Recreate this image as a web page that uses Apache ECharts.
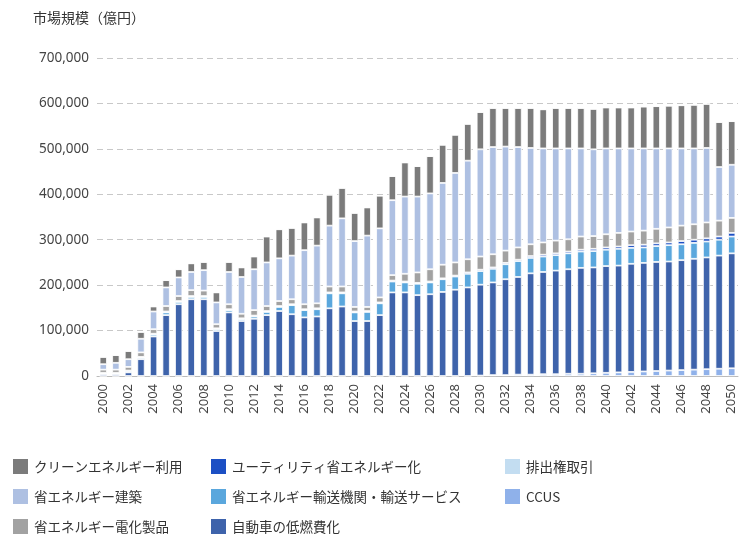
<!DOCTYPE html>
<html><head><meta charset="utf-8">
<script src="https://cdn.jsdelivr.net/npm/echarts@6/dist/echarts.min.js"></script>
<style>html,body{margin:0;padding:0;background:#fff}#c{width:750px;height:538px}</style>
</head><body><div id="c"></div>
<script>
// units: thousand 億円
const years = [];
for (let y = 2000; y <= 2050; y++) years.push(String(y));
const ccus  = [0,0,0,0,0,0,0,0,0,0, 0,0,0,0,0,0,0,0,0,0, 0,0,0,0,0,0,0,0,0,0, 1,2,2,3,3,4,4,5,5,6, 7,8,9,10,11,12,13,14,15,16,17];
const auto  = [4,4,8,37,87,134,158,169,169,99, 140,121,126,134,143,136,129,131,149,153, 121,121,134,184,184,178,180,185,190,195, 200,204,211,215,223,225,228,230,233,233, 235,235,238,239,240,240,242,244,246,249,253];
const trans = [2,2,3,3,4,6,5,5,5,4, 5,4,5,7,9,20,16,16,33,29, 19,20,26,24,22,25,26,28,29,30, 30,30,33,35,34,34,34,35,36,36, 36,37,35,34,35,36,35,35,35,35,37];
const util  = [1,1,1,2,2,2,2,2,2,2, 2,2,2,2,2,2,2,2,2,2, 2,2,2,2,2,2,2,2,2,3, 3,3,3,3,4,4,4,4,4,5, 5,5,6,6,6,6,7,7,7,7,8];
const elec  = [7,7,8,10,10,12,11,13,12,9, 11,10,12,11,11,11,11,11,13,13, 10,9,11,12,17,23,27,30,29,29, 29,29,27,27,26,27,28,27,29,28, 29,30,30,31,32,33,34,34,35,35,33];
const build = [12,15,17,30,39,41,41,40,45,48, 71,81,90,96,94,96,119,127,134,150, 145,157,152,165,170,167,167,180,197,217, 236,236,229,221,212,207,203,200,194,191, 189,186,183,181,177,174,170,167,164,118,117];
const clean = [16,17,18,15,11,16,18,19,18,22, 22,21,28,57,64,61,61,62,68,67, 62,62,72,53,75,67,82,84,84,81, 82,86,85,86,88,86,89,89,89,89, 90,90,90,92,93,94,95,96,97,99,96];
const emis  = years.map(() => 0);

const seriesDefs = [
  ['CCUS', ccus, '#8fb1ea'],
  ['自動車の低燃費化', auto, '#3e63ab'],
  ['省エネルギー輸送機関・輸送サービス', trans, '#5aa7dd'],
  ['ユーティリティ省エネルギー化', util, '#1c4fc4'],
  ['省エネルギー電化製品', elec, '#a2a2a2'],
  ['省エネルギー建築', build, '#aec0e2'],
  ['クリーンエネルギー利用', clean, '#7b7b7b'],
  ['排出権取引', emis, '#c3ddf1']
];
const chart = echarts.init(document.getElementById('c'));
const legendBase = {orient:'vertical', height:120, itemWidth:17, itemHeight:17, itemGap:11, icon:'rect',
  textStyle:{fontSize:13.5, color:'#333', fontFamily:'Noto Sans CJK JP'}};
chart.setOption({
  animation:false,
  title:{text:'市場規模（億円）', left:28, top:6, textStyle:{fontSize:14, fontWeight:'normal', color:'#333', fontFamily:'Noto Sans CJK JP'}},
  legend:[
    Object.assign({left:6, top:452, data:['クリーンエネルギー利用','省エネルギー建築','省エネルギー電化製品']}, legendBase),
    Object.assign({left:204, top:452, data:['ユーティリティ省エネルギー化','省エネルギー輸送機関・輸送サービス','自動車の低燃費化']}, legendBase),
    Object.assign({left:498, top:452, data:['排出権取引','CCUS']}, legendBase)
  ],
  grid:{left:97, right:12, top:58, bottom:162},
  xAxis:{type:'category', data:years,
    axisTick:{show:false}, axisLine:{lineStyle:{color:'#bbb'}},
    axisLabel:{rotate:90, interval:1, fontSize:13, color:'#444', fontFamily:'Noto Sans'}},
  yAxis:{type:'value', min:0, max:700, interval:100,
    axisLabel:{fontSize:13.5, color:'#444', fontFamily:'Noto Sans', formatter:v => (v*1000).toLocaleString('en-US')},
    splitLine:{lineStyle:{type:[6,4], color:'#c8c8c8'}}},
  series: seriesDefs.map(([n,d,c]) => ({name:n, type:'bar', stack:'s', data:d, barCategoryGap:'42%',
    itemStyle:{color:c, borderColor:'#fff', borderWidth:0.8}}))
});
</script></body></html>
